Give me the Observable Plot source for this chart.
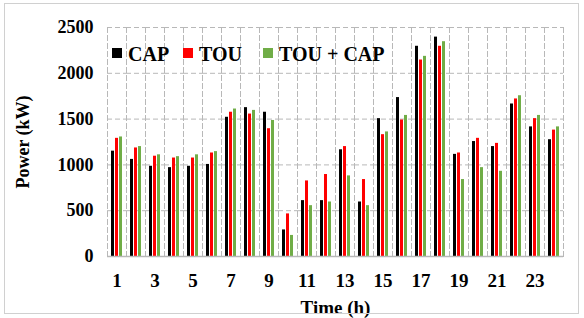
<!DOCTYPE html>
<html>
<head>
<meta charset="utf-8">
<script src="https://cdn.jsdelivr.net/npm/d3@7"></script>
<script src="https://cdn.jsdelivr.net/npm/@observablehq/plot@0.6"></script>
<style>
  html, body { margin: 0; padding: 0; background: #fff; }
  #wrap { position: relative; width: 584px; height: 318px; overflow: hidden; font-family: "Liberation Serif", "Times New Roman", serif; font-weight: bold; }
  #border { position: absolute; left: 4px; top: 3px; width: 575px; height: 311px; border: 1px solid #d0d0d0; box-sizing: border-box; pointer-events: none; }
  .lg-sw { position: absolute; width: 10px; height: 10px; }
  .lg-tx { position: absolute; font-size: 20px; line-height: 20px; white-space: nowrap; color: #000; }
  #wrap > svg { position: absolute; left: 0; top: 0; }
</style>
</head>
<body>
<div id="wrap"><div id="border"></div></div>
<script>
const hours = [1,2,3,4,5,6,7,8,9,10,11,12,13,14,15,16,17,18,19,20,21,22,23,24];
const seriesNames = ["CAP", "TOU", "TOU + CAP"];
const seriesColors = ["#000000", "#ff0000", "#70ad47"];
const cap    = [1150,1060,985,970,985,1005,1520,1625,1575,290,610,610,1165,595,1505,1735,2295,2395,1115,1255,1200,1665,1415,1275];
const tou    = [1290,1185,1095,1075,1075,1130,1575,1555,1395,465,825,895,1200,840,1330,1490,2145,2295,1130,1290,1235,1720,1505,1380];
const touCap = [1305,1200,1110,1090,1110,1145,1610,1595,1485,230,555,595,880,555,1360,1540,2185,2345,840,970,930,1755,1540,1415];
const yTicks = [0, 500, 1000, 1500, 2000, 2500];
const gridTicks = [500, 1000, 1500, 2000, 2500];

const seriesValues = [cap, tou, touCap];
const data = [];
hours.forEach((h, i) => {
  seriesNames.forEach((s, j) => data.push({hour: h, series: s, value: seriesValues[j][i]}));
});

const gridColor = "#b8b8b8";

const chart = Plot.plot({
  width: 584,
  height: 318,
  marginLeft: 97,
  marginRight: 11,
  marginTop: 27,
  marginBottom: 62,
  style: {fontFamily: "'Liberation Serif', 'Times New Roman', serif", fontWeight: "bold", fontSize: "18px", color: "#000", background: "transparent", overflow: "visible"},
  fx: {domain: hours, padding: 0, axis: null},
  x: {domain: seriesNames, paddingInner: 0.2, paddingOuter: 0.8, axis: null},
  y: {domain: [0, 2500], axis: null},
  color: {domain: seriesNames, range: seriesColors},
  marks: [
    Plot.ruleY(gridTicks, {stroke: gridColor, strokeOpacity: 1, strokeWidth: 1, strokeDasharray: "5,3"}),
    Plot.frame({anchor: "left", stroke: gridColor, strokeOpacity: 1, strokeWidth: 1, strokeDasharray: "5,3"}),
    Plot.frame({anchor: "right", stroke: gridColor, strokeOpacity: 1, strokeWidth: 1, strokeDasharray: "5,3"}),
    Plot.barY(data, {fx: "hour", x: "series", y: "value", fill: "series"}),
    Plot.ruleY([0], {stroke: gridColor, strokeWidth: 1.5}),
    Plot.axisY({ticks: yTicks, tickSize: 0, tickPadding: 14, tickFormat: d => String(d), label: "Power (kW)", labelAnchor: "center", labelArrow: false, labelOffset: 91, fontSize: 18}),
    Plot.axisFx({anchor: "bottom", tickSize: 0, tickPadding: 17, tickFormat: d => (d % 2 === 1 ? String(d) : ""), label: "Time (h)", labelAnchor: "center", labelArrow: false, labelOffset: 57, fontSize: 19})
  ]
});

const wrap = document.getElementById("wrap");
wrap.insertBefore(chart, wrap.firstChild);

const legendPos = [112, 183, 263];
seriesNames.forEach((s, i) => {
  const sw = document.createElement("div");
  sw.className = "lg-sw";
  sw.style.left = legendPos[i] + "px";
  sw.style.top = "48px";
  sw.style.background = seriesColors[i];
  wrap.appendChild(sw);
  const tx = document.createElement("div");
  tx.className = "lg-tx";
  tx.style.left = (legendPos[i] + 16) + "px";
  tx.style.top = "44px";
  tx.textContent = s;
  wrap.appendChild(tx);
});
</script>
</body>
</html>
